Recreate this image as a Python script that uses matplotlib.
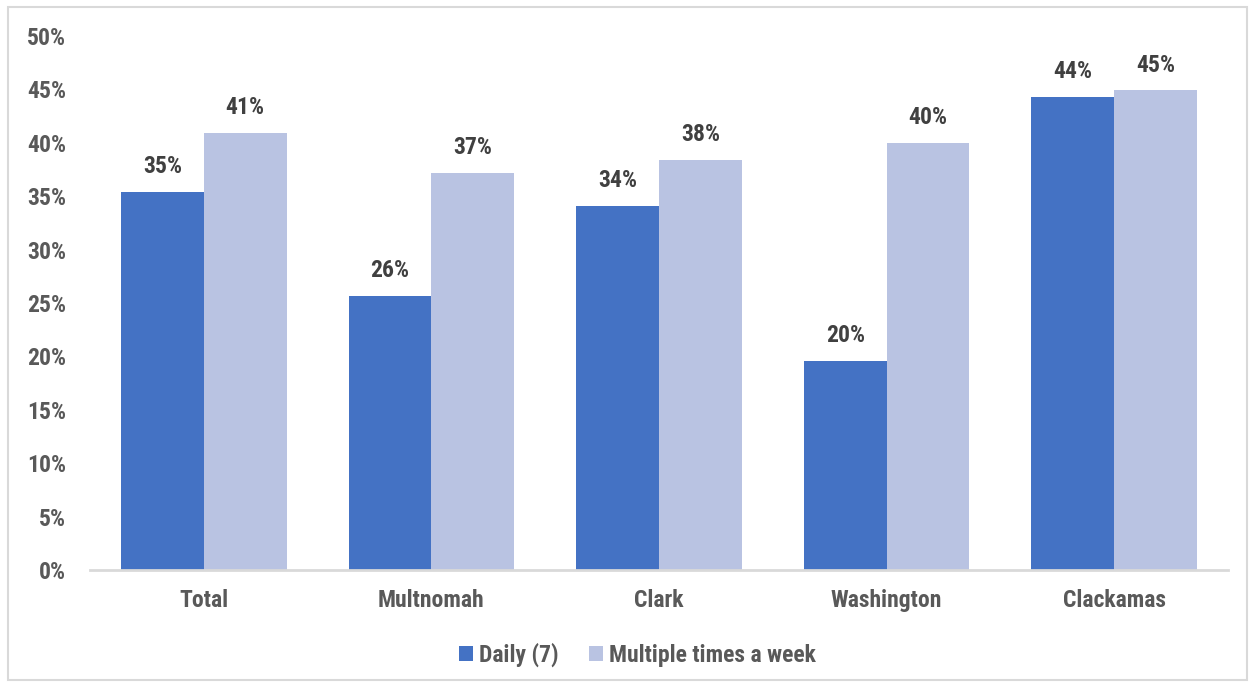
import matplotlib.pyplot as plt
import numpy as np
from matplotlib.patches import Rectangle
from matplotlib.ticker import PercentFormatter

plt.rcParams['font.family'] = ['Roboto Condensed', 'Liberation Sans', 'DejaVu Sans']

# Data (percent).
categories = ['Total', 'Multnomah', 'Clark', 'Washington', 'Clackamas']
series_names = ['Daily (7)', 'Multiple times a week']
daily = [35.4, 25.7, 34.1, 19.6, 44.3]
multiple = [40.9, 37.2, 38.4, 40.0, 44.9]

DAILY_COLOR = '#4472C4'
MULTI_COLOR = '#B9C3E2'
TEXT_COLOR = '#595959'
LABEL_COLOR = '#404040'
FONT_SIZE = 17


def main():
    fig = plt.figure(figsize=(12.55, 6.89), dpi=100)
    ax = fig.add_axes([0.0717, 0.1727, 0.9068, 0.7751])

    # Light gray border around the whole chart, as in the original.
    fig.patches.append(Rectangle((8 / 1255, 9 / 689), 1239 / 1255, 673 / 689,
                                 transform=fig.transFigure, fill=False,
                                 edgecolor='#D9D9D9', linewidth=1.5))

    x = np.arange(len(categories))
    width = 0.364
    bars_d = ax.bar(x - width / 2, daily, width, color=DAILY_COLOR,
                    label=series_names[0])
    bars_m = ax.bar(x + width / 2, multiple, width, color=MULTI_COLOR,
                    label=series_names[1])

    for bars in (bars_d, bars_m):
        labels = ['%d%%' % round(b.get_height()) for b in bars]
        ax.bar_label(bars, labels=labels, padding=10, fontsize=FONT_SIZE,
                     fontweight='bold', color=LABEL_COLOR)

    ax.set_xlim(-0.5, len(categories) - 0.5)
    ax.set_ylim(0, 50)
    ax.set_yticks(np.arange(0, 51, 5))
    ax.yaxis.set_major_formatter(PercentFormatter(decimals=0))
    ax.set_xticks(x)
    ax.set_xticklabels(categories)

    for spine in ('top', 'right', 'left'):
        ax.spines[spine].set_visible(False)
    ax.spines['bottom'].set_color('#D9D9D9')
    ax.spines['bottom'].set_linewidth(2)

    ax.tick_params(axis='both', length=0, labelsize=FONT_SIZE,
                   colors=TEXT_COLOR)
    ax.tick_params(axis='x', pad=14)
    ax.tick_params(axis='y', pad=17)
    for lbl in ax.get_xticklabels() + ax.get_yticklabels():
        lbl.set_fontweight('bold')

    leg = fig.legend(loc='center', bbox_to_anchor=(0.508, 0.049), ncol=2,
                     frameon=False, fontsize=FONT_SIZE, handlelength=0.6,
                     handleheight=0.6, handletextpad=0.25, columnspacing=1.3)
    for txt in leg.get_texts():
        txt.set_color(TEXT_COLOR)
        txt.set_fontweight('bold')

    fig.savefig('out.png', dpi=100)
    plt.close(fig)


if __name__ == '__main__':
    main()
